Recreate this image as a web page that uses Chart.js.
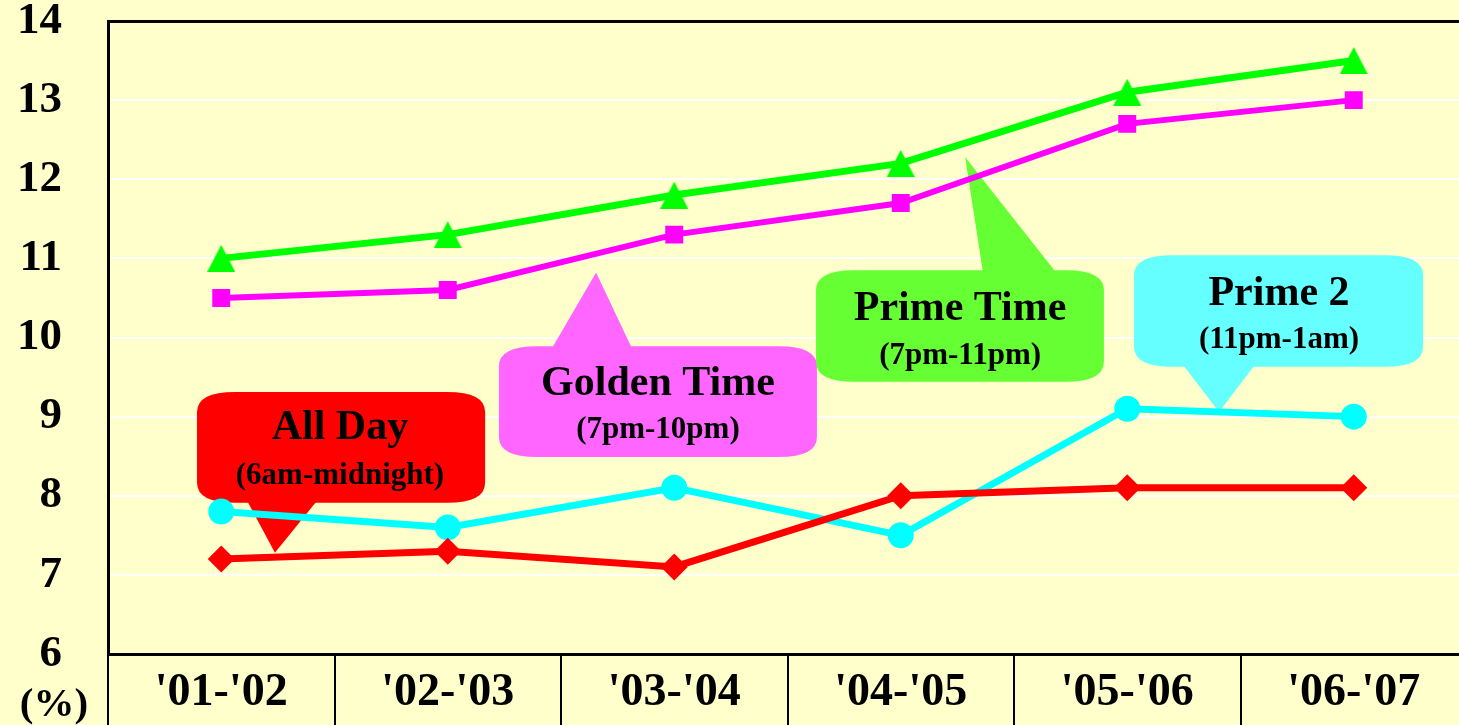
<!DOCTYPE html>
<html>
<head>
<meta charset="utf-8">
<script src="https://cdn.jsdelivr.net/npm/chart.js@4.4.0/dist/chart.umd.min.js"></script>
<style>
  html, body { margin: 0; padding: 0; background: #FFFFCC; overflow: hidden; }
  #wrap { position: absolute; left: 0; top: 0; width: 1470px; height: 725px; }
  canvas { display: block; width: 1470px; height: 725px; }
</style>
</head>
<body>
<div id="wrap"><canvas id="chart" width="1470" height="725"></canvas></div>
<script>
// Seasons on the category axis
const seasons = ["'01-'02", "'02-'03", "'03-'04", "'04-'05", "'05-'06", "'06-'07"];

// Ratings share (%) per daypart
const primeTime  = [11.0, 11.3, 11.8, 12.2, 13.1, 13.5];
const goldenTime = [10.5, 10.6, 11.3, 11.7, 12.7, 13.0];
const prime2     = [7.8, 7.6, 8.1, 7.5, 9.1, 9.0];
const allDay     = [7.2, 7.3, 7.1, 8.0, 8.1, 8.1];

// Value axis ticks
const yTicks = [6, 7, 8, 9, 10, 11, 12, 13, 14];

const SERIF = '"Liberation Serif", "Times New Roman", serif';

// Speech-bubble labels, placed in data units (x = category index, y = %)
const callouts = [
  { title: 'All Day', sub: '(6am-midnight)', fill: '#FF0000',
    box: [-0.107, 9.31, 1.165, 7.91], base: [0.114, 0.423], tip: [0.237, 7.28],
    textX: 0.524, titleY: 8.86, subY: 8.25 },
  { title: 'Golden Time', sub: '(7pm-10pm)', fill: '#FF66FF',
    box: [1.226, 9.89, 2.63, 8.49], base: [1.46, 1.813], tip: [1.655, 10.82],
    textX: 1.928, titleY: 9.41, subY: 8.83 },
  { title: 'Prime Time', sub: '(7pm-11pm)', fill: '#66FF33',
    box: [2.626, 10.85, 3.897, 9.44], base: [3.363, 3.685], tip: [3.284, 12.28],
    textX: 3.262, titleY: 10.36, subY: 9.77 },
  { title: 'Prime 2', sub: '(11pm-1am)', fill: '#66FFFF',
    box: [4.03, 11.04, 5.306, 9.63], base: [4.246, 4.564], tip: [4.405, 9.06],
    textX: 4.67, titleY: 10.55, subY: 9.97 }
];

// Triangle marker whose bounding box is centred on the data point
function triangleMarker(color, w, h) {
  const c = document.createElement('canvas');
  c.width = w; c.height = h;
  const g = c.getContext('2d');
  g.fillStyle = color;
  g.beginPath();
  g.moveTo(w / 2, 0);
  g.lineTo(w, h);
  g.lineTo(0, h);
  g.closePath();
  g.fill();
  return c;
}

function bubbleBox(ctx, l, t, r, b, rx, ry) {
  ctx.beginPath();
  ctx.moveTo(l + rx, t);
  ctx.lineTo(r - rx, t);
  ctx.quadraticCurveTo(r, t, r, t + ry);
  ctx.lineTo(r, b - ry);
  ctx.quadraticCurveTo(r, b, r - rx, b);
  ctx.lineTo(l + rx, b);
  ctx.quadraticCurveTo(l, b, l, b - ry);
  ctx.lineTo(l, t + ry);
  ctx.quadraticCurveTo(l, t, l + rx, t);
  ctx.closePath();
  ctx.fill();
}

const calloutPlugin = {
  id: 'callouts',
  beforeDatasetsDraw(chart) {
    const ctx = chart.ctx;
    const xs = chart.scales.x, ys = chart.scales.y;
    const X = v => xs.getPixelForValue(v);
    const Y = v => ys.getPixelForValue(v);
    ctx.save();
    callouts.forEach(c => {
      const l = X(c.box[0]), t = Y(c.box[1]), r = X(c.box[2]), b = Y(c.box[3]);
      ctx.fillStyle = c.fill;
      bubbleBox(ctx, l, t, r, b, 38, 20);
      const tx = X(c.tip[0]), ty = Y(c.tip[1]);
      const edge = ty > b ? b - 2 : t + 2;
      ctx.beginPath();
      ctx.moveTo(X(c.base[0]), edge);
      ctx.lineTo(X(c.base[1]), edge);
      ctx.lineTo(tx, ty);
      ctx.closePath();
      ctx.fill();
      ctx.fillStyle = '#000000';
      ctx.textAlign = 'center';
      ctx.textBaseline = 'middle';
      ctx.font = 'bold 42px ' + SERIF;
      ctx.fillText(c.title, X(c.textX), Y(c.titleY));
      ctx.font = 'bold 31px ' + SERIF;
      ctx.fillText(c.sub, X(c.textX), Y(c.subY));
    });
    ctx.restore();
  },
  afterDraw(chart) {
    const ctx = chart.ctx;
    ctx.save();
    ctx.fillStyle = '#000000';
    ctx.textAlign = 'center';
    ctx.textBaseline = 'middle';
    ctx.font = 'bold 41px ' + SERIF;
    ctx.fillText('(%)', 54, 705);
    ctx.restore();
  }
};

function series(data, color, style, radius, width) {
  return {
    data: data,
    borderColor: color,
    backgroundColor: color,
    borderWidth: width,
    pointStyle: style,
    pointRadius: radius,
    pointHoverRadius: radius,
    pointBorderWidth: 0,
    pointBackgroundColor: color,
    tension: 0
  };
}

new Chart(document.getElementById('chart'), {
  type: 'line',
  data: {
    labels: seasons,
    datasets: [
      series(allDay, '#FF0000', 'rectRot', 13.5, 7),
      series(prime2, '#00FFFF', 'circle', 13, 7),
      series(goldenTime, '#FF00FF', 'rect', 12.7, 6),
      series(primeTime, '#00FF00', triangleMarker('#00FF00', 28, 27), 14, 7)
    ]
  },
  options: {
    responsive: false,
    animation: false,
    devicePixelRatio: 1,
    layout: { autoPadding: false, padding: { top: 21, right: 3, left: 0, bottom: 0 } },
    plugins: {
      legend: { display: false },
      tooltip: { enabled: false }
    },
    scales: {
      x: {
        offset: true,
        afterFit: s => { s.height = 71; s.paddingLeft = 0; s.paddingRight = 0; },
        grid: {
          offset: true,
          drawOnChartArea: false,
          drawTicks: true,
          tickLength: 71,
          color: '#000000',
          lineWidth: 2
        },
        border: { display: true, color: '#000000', width: 3 },
        ticks: {
          color: '#000000',
          padding: -59,
          maxRotation: 0,
          font: { family: SERIF, size: 46, weight: 'bold' }
        }
      },
      y: {
        min: yTicks[0],
        max: yTicks[yTicks.length - 1],
        afterFit: s => { s.width = 108; s.paddingTop = 0; s.paddingBottom = 0; },
        afterBuildTicks: s => { s.ticks = yTicks.map(v => ({ value: v })); },
        grid: {
          z: -1,
          drawTicks: false,
          color: c => (c.tick && (c.tick.value === 14 || c.tick.value === 6)) ? '#000000' : '#FFFFFF',
          lineWidth: c => (c.tick && c.tick.value === 14) ? 3 : 2
        },
        border: { display: true, color: '#000000', width: 3 },
        ticks: {
          color: '#000000',
          padding: 46,
          font: { family: SERIF, size: 45, weight: 'bold' },
          callback: v => String(v)
        }
      }
    }
  },
  plugins: [calloutPlugin]
});
</script>
</body>
</html>
